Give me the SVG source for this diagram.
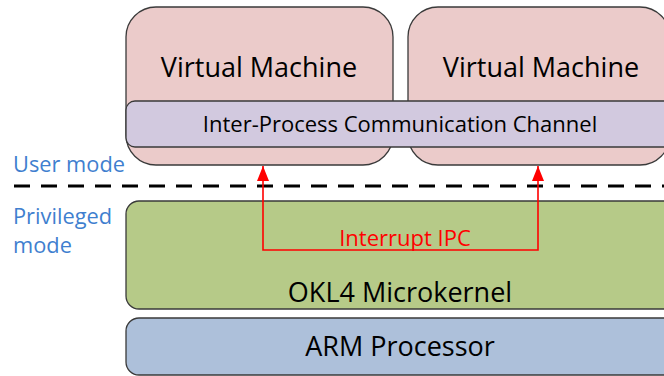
<svg xmlns="http://www.w3.org/2000/svg" width="664" height="376" viewBox="0 0 664 376">
<defs>
<style>
.box{stroke:#3a3a3a;stroke-width:1.3}
.big{font-family:"Open Sans","Noto Sans",sans-serif;font-size:27px;fill:#000;text-anchor:middle}
.mid{font-family:"Open Sans","Noto Sans",sans-serif;font-size:22px;fill:#000;text-anchor:middle}
.lbl{font-family:"Open Sans","Noto Sans",sans-serif;font-size:21.8px;fill:#3f7fcf}
.red{stroke:#ff0000;stroke-width:1.6;fill:none}
</style>
<marker id="ah" viewBox="0 0 10 10" refX="10" refY="5" markerWidth="15" markerHeight="12" markerUnits="userSpaceOnUse" orient="auto-start-reverse" preserveAspectRatio="none">
<path d="M0,0 L10,5 L0,10 z" fill="#ff0000"/>
</marker>
</defs>
<rect width="664" height="376" fill="#ffffff"/>
<g id="vm1"><rect class="box" x="126" y="7" width="267" height="158" rx="30" fill="#ebcbca"/><text class="big" x="259" y="77">Virtual Machine</text></g>
<g id="vm2"><rect class="box" x="408" y="7" width="262" height="158" rx="30" fill="#ebcbca"/><text class="big" x="541" y="77">Virtual Machine</text></g>
<g id="ipc"><rect class="box" x="126" y="101" width="560" height="46" rx="9" fill="#d2c9df"/><text class="mid" x="400" y="132">Inter-Process Communication Channel</text></g>
<g id="okl4"><rect class="box" x="126" y="201" width="560" height="108" rx="13" fill="#b6ca88"/><text class="big" x="400" y="302">OKL4 Microkernel</text></g>
<g id="arm"><rect class="box" x="126" y="318" width="560" height="57" rx="13" fill="#adc0da"/><text class="big" x="400" y="356">ARM Processor</text></g>
<g id="labels">
<text class="lbl" x="13" y="172">User mode</text>
<text class="lbl" x="13" y="224">Privileged</text>
<text class="lbl" x="13" y="253">mode</text>
<line x1="14" y1="186" x2="664" y2="186" stroke="#000" stroke-width="3.2" stroke-dasharray="16,11"/>
</g>
<g id="connectors">
<path class="red" d="M263,166 L263,250 L538,250 L538,166" marker-start="url(#ah)" marker-end="url(#ah)"/>
<text x="405" y="246" font-family="'Open Sans','Noto Sans',sans-serif" font-size="22" fill="#ff0000" text-anchor="middle">Interrupt IPC</text>
</g>
</svg>
